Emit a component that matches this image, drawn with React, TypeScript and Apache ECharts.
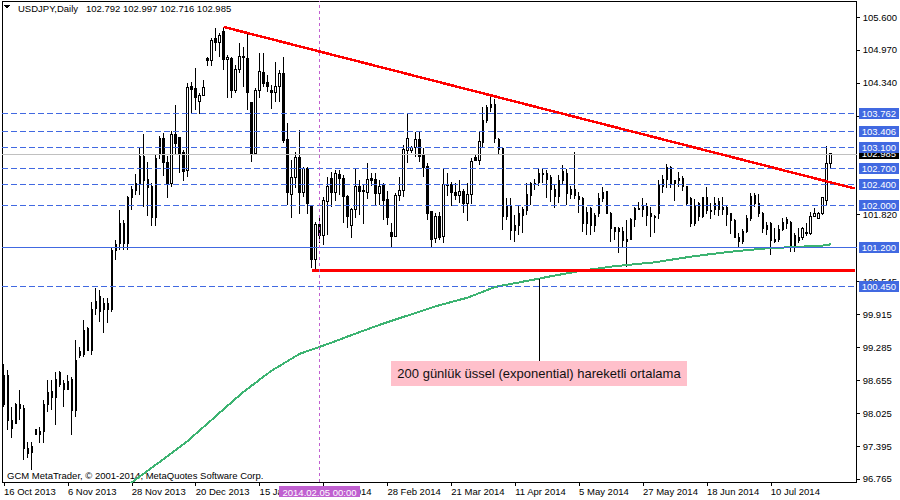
import React, { useEffect, useRef } from 'react';
import * as echarts from 'echarts';

// ---- data ----
const dateLabels = ['16 Oct 2013', '6 Nov 2013', '28 Nov 2013', '20 Dec 2013', '15 Jan 2014', '6 Feb 2014', '28 Feb 2014', '21 Mar 2014', '11 Apr 2014', '5 May 2014', '27 May 2014', '18 Jun 2014', '10 Jul 2014'];
const labelStep = 16;
const emptySlots = 6;

// [open, close, low, high]
const ohlc: number[][] = [
  [98.18, 98.75, 98.14, 98.96], [98.75, 97.89, 97.70, 98.85], [97.89, 97.73, 97.55, 98.14], [97.83, 98.18, 97.82, 98.22],
  [98.18, 98.12, 97.89, 98.47], [98.12, 97.35, 97.13, 98.18], [97.35, 97.26, 97.17, 97.47], [97.27, 97.38, 96.94, 97.47],
  [97.72, 97.62, 97.61, 97.73], [97.62, 97.68, 97.45, 97.76], [97.68, 98.18, 97.45, 98.27], [98.18, 98.41, 98.05, 98.66],
  [98.43, 98.33, 98.08, 98.66], [98.33, 98.66, 97.80, 98.81], [98.81, 98.58, 98.52, 98.83], [98.59, 98.48, 98.14, 98.66],
  [98.48, 98.62, 98.47, 98.75], [98.66, 98.07, 97.61, 98.72], [98.07, 99.04, 97.95, 99.42], [99.21, 99.12, 99.08, 99.29],
  [99.14, 99.61, 99.10, 99.81], [99.65, 99.23, 99.21, 99.67], [99.23, 100.00, 99.14, 100.15], [100.02, 100.15, 99.90, 100.41],
  [100.25, 99.96, 99.77, 100.38], [100.00, 100.13, 99.55, 100.22], [100.13, 100.01, 99.75, 100.22], [100.00, 101.14, 99.96, 101.18],
  [101.14, 101.24, 100.95, 101.34], [101.27, 101.66, 101.14, 101.91], [101.66, 101.26, 101.14, 101.72], [101.26, 102.14, 101.14, 102.18],
  [102.14, 102.31, 101.91, 102.37], [102.29, 102.42, 102.20, 102.60], [102.42, 102.93, 102.20, 103.12], [102.94, 102.48, 101.97, 103.36],
  [102.49, 102.33, 101.79, 102.83], [102.35, 101.77, 101.60, 102.42], [101.77, 102.90, 101.60, 102.96], [102.98, 103.27, 102.88, 103.32],
  [103.27, 102.81, 102.56, 103.38], [102.81, 102.41, 102.14, 102.94], [102.41, 103.36, 102.35, 103.42], [103.36, 103.19, 102.96, 103.92],
  [103.29, 102.98, 102.62, 103.30], [103.01, 102.64, 102.46, 103.06], [102.66, 104.26, 102.54, 104.34], [104.28, 104.22, 103.76, 104.36],
  [104.24, 104.07, 103.82, 104.62], [103.98, 104.09, 103.74, 104.14], [104.09, 104.26, 104.08, 104.40], [104.80, 104.76, 104.66, 104.83],
  [104.76, 105.16, 104.66, 105.20], [105.18, 105.12, 104.95, 105.39], [105.12, 105.24, 104.84, 105.29], [105.33, 104.78, 104.59, 105.41],
  [104.78, 104.83, 104.05, 104.87], [104.81, 104.19, 104.05, 104.83], [104.19, 104.59, 104.15, 104.68], [104.59, 104.85, 104.53, 105.10],
  [104.85, 104.83, 104.26, 105.03], [104.81, 104.15, 103.82, 105.32], [103.97, 102.98, 102.83, 103.98], [102.98, 104.20, 102.96, 104.24],
  [104.20, 104.55, 104.05, 104.91], [104.54, 104.33, 104.26, 104.91], [104.34, 104.28, 104.17, 104.49], [104.20, 104.16, 103.84, 104.30],
  [104.15, 104.28, 103.97, 104.74], [104.27, 104.51, 103.97, 104.59], [104.51, 103.23, 103.19, 104.84], [103.25, 102.24, 102.00, 103.57],
  [102.21, 102.54, 101.75, 102.86], [102.54, 102.92, 102.33, 103.02], [102.92, 102.24, 101.83, 103.44], [102.24, 102.71, 102.16, 102.74],
  [102.71, 102.04, 101.83, 102.74], [101.99, 100.97, 100.80, 101.99], [100.97, 101.64, 100.78, 101.68], [101.64, 101.43, 101.28, 101.78],
  [101.43, 102.10, 101.24, 102.16], [102.07, 102.35, 101.43, 102.54], [102.52, 102.24, 101.97, 102.64], [102.24, 102.60, 102.08, 102.67],
  [102.58, 102.52, 102.20, 102.67], [102.52, 102.16, 101.66, 102.58], [102.16, 101.78, 101.56, 102.19], [101.61, 101.91, 101.37, 101.94],
  [101.91, 102.35, 101.76, 102.72], [102.35, 102.27, 101.81, 102.48], [102.29, 102.26, 101.64, 102.39], [102.24, 102.50, 102.12, 102.80],
  [102.51, 102.47, 102.37, 102.62], [102.50, 102.23, 102.00, 102.62], [102.23, 102.35, 102.00, 102.48], [102.37, 102.10, 101.72, 102.42],
  [102.11, 101.77, 101.62, 102.27], [101.47, 101.41, 101.18, 101.66], [101.41, 102.18, 101.39, 102.23], [102.18, 102.29, 102.08, 102.54],
  [102.28, 103.06, 102.16, 103.15], [103.04, 103.27, 102.81, 103.76], [103.04, 103.10, 103.00, 103.13], [103.10, 103.26, 102.92, 103.40],
  [103.26, 102.94, 102.83, 103.42], [102.96, 102.73, 102.54, 103.09], [102.75, 101.85, 101.72, 102.80], [101.88, 101.35, 101.20, 101.88],
  [101.37, 101.79, 101.28, 101.85], [101.79, 101.39, 101.33, 101.88], [101.41, 102.39, 101.28, 102.69], [102.37, 102.40, 102.18, 102.62],
  [102.40, 102.24, 101.99, 102.45], [102.25, 102.19, 102.10, 102.43], [102.19, 102.27, 102.04, 102.48], [102.27, 102.04, 101.85, 102.32],
  [102.04, 102.21, 101.70, 102.42], [102.21, 102.83, 102.02, 102.90], [102.92, 102.86, 102.86, 102.96], [102.86, 103.21, 102.77, 103.40],
  [103.20, 103.63, 103.09, 103.88], [103.63, 103.87, 103.57, 103.92], [103.86, 103.92, 103.79, 104.07], [103.92, 103.28, 103.19, 104.04],
  [103.26, 103.07, 102.96, 103.28], [103.09, 101.78, 101.53, 103.09], [101.78, 101.97, 101.72, 102.14], [101.97, 101.51, 101.33, 102.14],
  [101.51, 101.62, 101.30, 101.81], [101.61, 101.85, 101.43, 101.99], [101.81, 101.91, 101.47, 101.97], [101.89, 102.21, 101.81, 102.42],
  [102.19, 102.41, 102.00, 102.45], [102.40, 102.42, 102.29, 102.51], [102.43, 102.61, 102.37, 102.69], [102.61, 102.58, 102.42, 102.70],
  [102.60, 102.50, 102.14, 102.67], [102.53, 102.30, 102.06, 102.58], [102.30, 102.16, 101.94, 102.39], [102.16, 102.48, 102.04, 102.58],
  [102.47, 102.64, 102.39, 102.77], [102.61, 102.23, 102.00, 102.69], [102.21, 102.31, 102.12, 102.36], [102.31, 102.18, 102.12, 103.02],
  [102.16, 102.11, 101.85, 102.26], [102.13, 101.66, 101.49, 102.16], [101.66, 101.87, 101.43, 101.97], [101.94, 101.62, 101.43, 101.97],
  [101.62, 101.81, 101.49, 101.85], [101.85, 102.12, 101.78, 102.23], [102.12, 102.24, 102.06, 102.34], [102.26, 101.85, 101.85, 102.28],
  [101.85, 101.56, 101.30, 101.87], [101.57, 101.49, 101.33, 101.59], [101.56, 101.49, 101.08, 101.59], [101.49, 101.32, 101.18, 101.59],
  [101.30, 101.35, 100.82, 101.72], [101.35, 101.72, 101.33, 101.75], [101.73, 101.94, 101.58, 101.97], [101.92, 101.94, 101.91, 102.06],
  [101.92, 101.97, 101.77, 102.14], [101.97, 101.81, 101.60, 102.04], [101.84, 101.78, 101.39, 101.97], [101.77, 101.78, 101.47, 101.81],
  [101.85, 102.37, 101.73, 102.48], [102.35, 102.50, 102.24, 102.58], [102.50, 102.73, 102.33, 102.79], [102.73, 102.41, 102.33, 102.75],
  [102.41, 102.47, 102.08, 102.48], [102.48, 102.51, 102.34, 102.64], [102.52, 102.35, 102.27, 102.56], [102.35, 102.04, 102.00, 102.37],
  [102.13, 101.66, 101.58, 102.16], [101.66, 102.00, 101.60, 102.12], [102.04, 101.79, 101.70, 102.06], [101.79, 102.14, 101.76, 102.16],
  [102.14, 101.89, 101.83, 102.35], [101.90, 101.88, 101.73, 102.04], [101.91, 102.04, 101.81, 102.16], [102.08, 101.91, 101.79, 102.13],
  [101.92, 101.96, 101.81, 102.15], [101.96, 101.83, 101.60, 101.98], [101.85, 101.70, 101.45, 101.86], [101.70, 101.39, 101.37, 101.73],
  [101.39, 101.30, 101.20, 101.47], [101.30, 101.49, 101.26, 101.54], [101.49, 101.75, 101.47, 101.81], [101.75, 102.16, 101.70, 102.23],
  [102.18, 102.04, 101.96, 102.23], [102.04, 101.85, 101.77, 102.21], [101.85, 101.56, 101.47, 101.88], [101.62, 101.54, 101.43, 101.67],
  [101.66, 101.33, 101.05, 101.67], [101.30, 101.35, 101.27, 101.56], [101.35, 101.53, 101.30, 101.62], [101.53, 101.67, 101.51, 101.75],
  [101.66, 101.72, 101.54, 101.78], [101.67, 101.20, 101.11, 101.69], [101.21, 101.43, 101.11, 101.47], [101.33, 101.39, 101.27, 101.56],
  [101.39, 101.56, 101.33, 101.59], [101.45, 101.48, 101.41, 101.66], [101.45, 101.79, 101.43, 101.87], [101.78, 101.85, 101.77, 101.94],
  [101.75, 101.85, 101.73, 101.87], [101.85, 102.14, 101.81, 102.16], [102.10, 102.79, 102.00, 103.14], [102.792, 102.985, 102.716, 102.997],
];

// 200-day EMA, starting at bar emaFirstBar
const emaFirstBar = 28;
const emaValues = [
  96.478, 96.535, 96.593, 96.640, 96.698, 96.755, 96.812, 96.868, 96.925, 96.981,
  97.036, 97.092, 97.149, 97.206, 97.264, 97.321, 97.378, 97.436, 97.493, 97.560,
  97.627, 97.694, 97.761, 97.828, 97.895, 97.964, 98.032, 98.099, 98.166, 98.233,
  98.300, 98.367, 98.434, 98.491, 98.549, 98.606, 98.664, 98.721, 98.778, 98.836,
  98.882, 98.927, 98.973, 99.019, 99.065, 99.111, 99.157, 99.184, 99.211, 99.237,
  99.264, 99.291, 99.318, 99.345, 99.373, 99.402, 99.430, 99.459, 99.488, 99.516,
  99.545, 99.572, 99.601, 99.627, 99.656, 99.683, 99.712, 99.738, 99.763, 99.788,
  99.813, 99.840, 99.865, 99.889, 99.914, 99.939, 99.964, 99.989, 100.014, 100.039,
  100.064, 100.088, 100.109, 100.128, 100.150, 100.171, 100.190, 100.211, 100.230, 100.260,
  100.289, 100.320, 100.348, 100.379, 100.408, 100.436, 100.454, 100.467, 100.482, 100.496,
  100.511, 100.524, 100.540, 100.553, 100.568, 100.582, 100.597, 100.612, 100.628, 100.643,
  100.656, 100.670, 100.685, 100.698, 100.712, 100.725, 100.739, 100.750, 100.762, 100.773,
  100.783, 100.794, 100.804, 100.815, 100.825, 100.834, 100.842, 100.849, 100.857, 100.865,
  100.872, 100.880, 100.888, 100.895, 100.901, 100.909, 100.920, 100.932, 100.945, 100.957,
  100.970, 100.981, 100.993, 101.004, 101.016, 101.025, 101.035, 101.046, 101.056, 101.066,
  101.075, 101.085, 101.094, 101.104, 101.111, 101.119, 101.127, 101.134, 101.140, 101.148,
  101.155, 101.163, 101.169, 101.175, 101.178, 101.182, 101.186, 101.190, 101.194, 101.198,
  101.201, 101.205, 101.209, 101.213, 101.217, 101.220, 101.224, 101.230, 101.240, 101.253,
];

const priceTicks = [105.6, 104.97, 104.34, 103.71, 101.82, 100.545, 99.915, 99.285, 98.655, 98.025, 97.395, 96.765];
const dashedLevels = [103.762, 103.406, 103.1, 102.7, 102.4, 102.0, 100.45];
const solidLevel = 101.2;
const lastPrice = 102.985;
const supportLevel = 100.76;
const supportStartBar = 77;
const trendStart = [55, 105.41];
const trendEnd = [213, 102.32];
const crosshairBar = 79;
const crosshairText = '2014.02.05 00:00';
const annotationBar = 134;
const annotationBoxValue = 99.02;
const titleText = 'USDJPY,Daily\u00a0\u00a0\u00a0102.792 102.997 102.716 102.985';
const footerText = 'GCM MetaTrader, \u00a9 2001-2014, MetaQuotes Software Corp.';
const annotationText = '200 g\u00fcnl\u00fck \u00fcssel (exponential) hareketli ortalama';

const FONT = 'Liberation Sans';
const FS = 9.5;
const BLUE = '#4169E1';

export default function App() {
  const ref = useRef<HTMLDivElement>(null);
  useEffect(() => {
    document.body.style.margin = '0';
    if (!ref.current) return;
    const chart = echarts.init(ref.current, null, { renderer: 'svg' });
    const n = ohlc.length + emptySlots;
    const categories = Array.from({ length: n }, (_, i) => String(i));
    const showLabel = (i: number) => i % labelStep === 0 && i / labelStep < dateLabels.length;
    const ema: (number | null)[] = Array.from({ length: ohlc.length }, (_, i) =>
      i >= emaFirstBar ? emaValues[i - emaFirstBar] : null
    );

    const boxLabel = (text: string, bg: string) => ({
      show: true,
      position: 'end',
      distance: 2,
      formatter: text,
      color: '#fff',
      backgroundColor: bg,
      padding: [1, 3, 0, 3],
      fontSize: FS,
      fontFamily: FONT,
      lineHeight: 10,
    });

    const markData: any[] = [
      { yAxis: lastPrice, lineStyle: { color: '#C0C0C0', width: 1, type: 'solid' }, label: boxLabel(lastPrice.toFixed(3), '#000') },
      ...dashedLevels.map((v) => ({ yAxis: v, lineStyle: { color: BLUE, width: 1, type: [6, 3] }, label: boxLabel(v.toFixed(3), BLUE) })),
      { yAxis: solidLevel, lineStyle: { color: BLUE, width: 1, type: 'solid' }, label: boxLabel(solidLevel.toFixed(3), BLUE) },
      [
        { coord: [supportStartBar, supportLevel], lineStyle: { color: '#FF0000', width: 2.5, type: 'solid' }, label: { show: false } },
        { coord: [n - 1, supportLevel] },
      ],
      [
        { coord: trendStart, lineStyle: { color: '#FF0000', width: 2.5, type: 'solid' }, label: { show: false } },
        { coord: trendEnd },
      ],
      {
        xAxis: crosshairBar,
        lineStyle: { color: '#C060D0', width: 1, type: [3, 3] },
        label: {
          show: true,
          position: 'start',
          distance: 4,
          formatter: crosshairText,
          color: '#fff',
          backgroundColor: '#C060D0',
          padding: [1, 4, 0, 4],
          fontSize: FS,
          fontFamily: FONT,
          lineHeight: 10,
        },
      },
    ];

    chart.setOption({
      animation: false,
      backgroundColor: '#fff',
      textStyle: { fontFamily: FONT },
      grid: { left: 2, top: 1, right: 43, bottom: 18, show: true, borderColor: '#000', borderWidth: 1 },
      xAxis: {
        type: 'category',
        data: categories,
        boundaryGap: true,
        axisLine: { show: true, lineStyle: { color: '#000', width: 1 } },
        axisTick: { show: true, alignWithLabel: true, interval: (i: number) => showLabel(i), length: 4, lineStyle: { color: '#000' } },
        axisLabel: {
          show: true,
          interval: (i: number) => showLabel(i),
          formatter: (_v: string, idx: number) => dateLabels[Math.floor(idx / labelStep)] ?? '',
          align: 'left',
          color: '#000',
          fontSize: FS,
          fontFamily: FONT,
          margin: 4,
        },
        splitLine: { show: false },
      },
      yAxis: {
        type: 'value',
        position: 'right',
        min: 96.707,
        max: 105.906,
        axisLine: { show: true, lineStyle: { color: '#000', width: 1 } },
        axisTick: { show: true, length: 3, customValues: priceTicks, lineStyle: { color: '#000' } },
        axisLabel: {
          show: true,
          customValues: priceTicks,
          formatter: (v: number) => v.toFixed(3),
          color: '#000',
          fontSize: FS,
          fontFamily: FONT,
          margin: 6,
        },
        splitLine: { show: false },
      },
      series: [
        {
          type: 'candlestick',
          data: ohlc,
          barWidth: 2,
          itemStyle: { color: '#fff', color0: '#000', borderColor: '#000', borderColor0: '#000', borderWidth: 1 },
          markLine: { silent: true, symbol: ['none', 'none'], animation: false, data: markData },
        },
        {
          type: 'line',
          data: ema,
          showSymbol: false,
          symbol: 'none',
          clip: true,
          lineStyle: { color: '#3CB371', width: 2 },
          itemStyle: { color: '#3CB371' },
          z: 3,
          markLine: {
            silent: true,
            symbol: ['none', 'none'],
            animation: false,
            label: { show: false },
            lineStyle: { color: '#000', width: 1, type: 'solid' },
            data: [[{ coord: [annotationBar, ema[annotationBar]] }, { coord: [annotationBar, annotationBoxValue] }]],
          },
        },
      ],
      graphic: [
        { type: 'polygon', shape: { points: [[4, 5], [10, 5], [7, 9]] }, style: { fill: '#000' } },
        {
          type: 'text', x: 18, y: 8.5,
          style: { text: titleText, fill: '#000', fontSize: FS, fontFamily: FONT, verticalAlign: 'middle', textVerticalAlign: 'middle' },
        },
        {
          type: 'text', x: 7, y: 475,
          style: { text: footerText, fill: '#000', fontSize: FS, fontFamily: FONT, verticalAlign: 'middle', textVerticalAlign: 'middle' },
        },
        { type: 'rect', shape: { x: 391, y: 361, width: 296, height: 25 }, style: { fill: '#FFC0CB' } },
        {
          type: 'text', x: 539, y: 373.5,
          style: {
            text: annotationText, fill: '#111', fontSize: 13, fontFamily: FONT,
            align: 'center', verticalAlign: 'middle', textAlign: 'center', textVerticalAlign: 'middle',
          },
        },
      ],
    });
    const svg = ref.current.querySelector('svg');
    if (svg) svg.setAttribute('shape-rendering', 'crispEdges');
    return () => chart.dispose();
  }, []);
  return <div ref={ref} style={{ width: 900, height: 500 }} />;
}
